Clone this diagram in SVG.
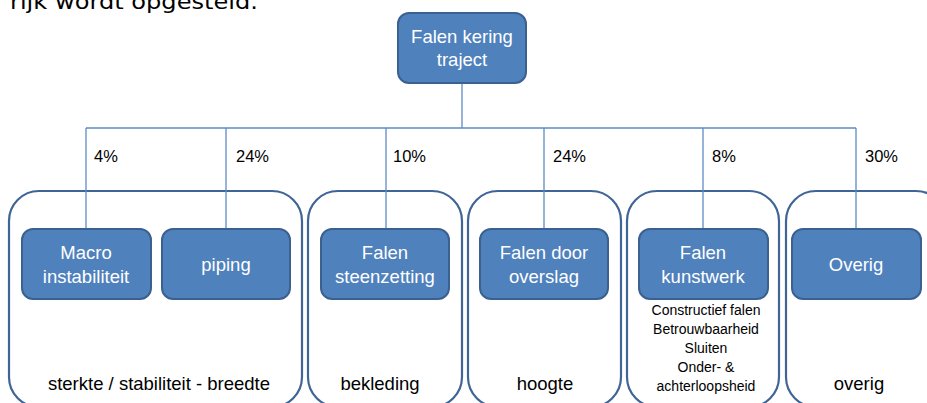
<svg xmlns="http://www.w3.org/2000/svg" width="927" height="403" viewBox="0 0 927 403">
<style>
.grp{fill:#ffffff;stroke:#3F6596;stroke-width:2.2}
.node{fill:#4F81BD;stroke:#3A6190;stroke-width:2}
.nt{font-family:"Liberation Sans",Arial,sans-serif;font-size:18.5px;fill:#ffffff;text-anchor:middle}
.pct{font-family:"Liberation Sans",Arial,sans-serif;font-size:16.5px;fill:#000000}
.lab{font-family:"Liberation Sans",Arial,sans-serif;font-size:18.5px;fill:#000000;text-anchor:middle}
.sub{font-family:"Liberation Sans",Arial,sans-serif;font-size:14px;fill:#000000;text-anchor:middle}
.con{stroke:#5E8AC4;stroke-width:1.3;fill:none}
</style>
<rect width="927" height="403" fill="#ffffff"/>
<text x="10" y="9" font-family="DejaVu Sans,Verdana,sans-serif" font-size="22" fill="#000000" textLength="248" lengthAdjust="spacingAndGlyphs">rijk wordt opgesteld.</text>

<g id="groups">
<g id="group-sterkte"><rect class="grp" x="9" y="191" width="293" height="216" rx="30"/><text class="lab" x="159" y="390">sterkte / stabiliteit - breedte</text></g>
<g id="group-bekleding"><rect class="grp" x="308" y="191" width="154" height="216" rx="30"/><text class="lab" x="380" y="390">bekleding</text></g>
<g id="group-hoogte"><rect class="grp" x="468" y="191" width="153" height="216" rx="30"/><text class="lab" x="545" y="390">hoogte</text></g>
<g id="group-kunstwerk"><rect class="grp" x="627" y="191" width="152" height="216" rx="30"/></g>
<g id="group-overig"><rect class="grp" x="786" y="191" width="160" height="216" rx="30"/><text class="lab" x="859" y="390">overig</text></g>
</g>

<g id="connectors">
<line class="con" x1="462" y1="83" x2="462" y2="128"/>
<line class="con" x1="86" y1="128" x2="856" y2="128"/>
<line class="con" x1="86" y1="128" x2="86" y2="229"/>
<line class="con" x1="226" y1="128" x2="226" y2="229"/>
<line class="con" x1="386" y1="128" x2="386" y2="229"/>
<line class="con" x1="544" y1="128" x2="544" y2="229"/>
<line class="con" x1="703" y1="128" x2="703" y2="229"/>
<line class="con" x1="856" y1="128" x2="856" y2="229"/>
<text class="pct" x="94" y="162">4%</text>
<text class="pct" x="236" y="162">24%</text>
<text class="pct" x="393" y="162">10%</text>
<text class="pct" x="553" y="162">24%</text>
<text class="pct" x="712" y="162">8%</text>
<text class="pct" x="865" y="162">30%</text>
</g>

<g id="node-top"><rect class="node" x="398" y="13" width="128" height="70" rx="11"/><text class="nt" x="462" y="43">Falen kering</text><text class="nt" x="462" y="66">traject</text></g>
<g id="node-macro"><rect class="node" x="22" y="229" width="129" height="70" rx="11"/><text class="nt" x="86" y="259">Macro</text><text class="nt" x="86" y="283">instabiliteit</text></g>
<g id="node-piping"><rect class="node" x="162" y="229" width="128" height="70" rx="11"/><text class="nt" x="226" y="271">piping</text></g>
<g id="node-steenzetting"><rect class="node" x="321" y="229" width="128" height="70" rx="11"/><text class="nt" x="385" y="259">Falen</text><text class="nt" x="385" y="283">steenzetting</text></g>
<g id="node-overslag"><rect class="node" x="480" y="229" width="128" height="70" rx="11"/><text class="nt" x="544" y="259">Falen door</text><text class="nt" x="544" y="283">overslag</text></g>
<g id="node-kunstwerk"><rect class="node" x="639" y="229" width="129" height="70" rx="11"/><text class="nt" x="703" y="259">Falen</text><text class="nt" x="703" y="283">kunstwerk</text>
<text class="sub" x="706" y="315">Constructief falen</text>
<text class="sub" x="706" y="334">Betrouwbaarheid</text>
<text class="sub" x="706" y="353">Sluiten</text>
<text class="sub" x="706" y="372">Onder- &amp;</text>
<text class="sub" x="706" y="391">achterloopsheid</text></g>
<g id="node-overig"><rect class="node" x="792" y="229" width="129" height="70" rx="11"/><text class="nt" x="856" y="271">Overig</text></g>
</svg>
